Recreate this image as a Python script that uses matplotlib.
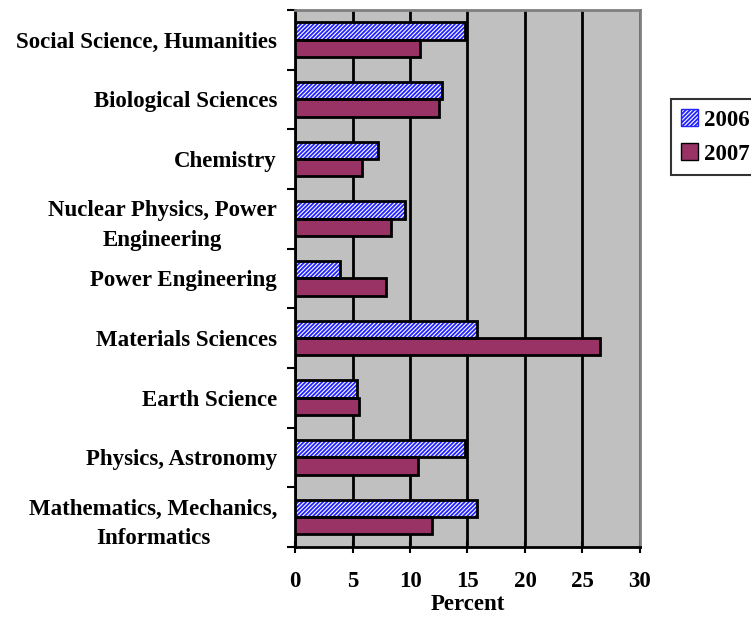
import numpy as np
import matplotlib
matplotlib.use("Agg")
import matplotlib.pyplot as plt
from matplotlib.patches import Patch

# categories listed bottom to top
categories = ["Mathematics, Mechanics,\nInformatics", "Physics, Astronomy", "Earth Science",
              "Materials Sciences", "Power Engineering", "Nuclear Physics, Power\nEngineering",
              "Chemistry", "Biological Sciences", "Social Science, Humanities"]
vals_2006 = [15.8, 14.8, 5.4, 15.8, 3.9, 9.6, 7.2, 12.8, 14.8]
vals_2007 = [11.9, 10.7, 5.6, 26.5, 7.9, 8.3, 5.8, 12.5, 10.9]
xticks = [0, 5, 10, 15, 20, 25, 30]

plt.rcParams['font.family'] = ['Liberation Serif', 'DejaVu Serif']
plt.rcParams['font.weight'] = 'bold'
plt.rcParams['hatch.linewidth'] = 1.3

fig = plt.figure(figsize=(7.51, 6.18), dpi=100)
ax = fig.add_axes([0.393, 0.115, 0.459, 0.869])
ax.set_facecolor('#c0c0c0')

y = np.arange(len(categories))
h = 0.29
# 2006: hatched blue/white, then black outline on top
ax.barh(y + h/2, vals_2006, height=h, color='white', edgecolor='#2222ff', hatch='////////', linewidth=0, zorder=3)
ax.barh(y + h/2, vals_2006, height=h, fill=False, edgecolor='black', linewidth=2, zorder=4)
ax.barh(y - h/2, vals_2007, height=h, color='#993366', edgecolor='black', linewidth=2, zorder=3)

ax.set_xlim(0, 30)
ax.set_ylim(-0.5, len(categories) - 0.5)
ax.set_xticks(xticks)
ax.set_xticklabels([str(t) for t in xticks], fontsize=16.5, fontweight='bold')
ax.xaxis.grid(True, color='black', linewidth=2, zorder=0)
ax.set_axisbelow(True)

ax.set_yticks(y)
ax.set_yticklabels(categories, fontsize=16.5, fontweight='bold', ha='right',
                   multialignment='center', linespacing=1.55)
ax.tick_params(axis='y', length=0, pad=13)
ax.set_yticks(np.arange(len(categories) + 1) - 0.5, minor=True)
ax.tick_params(axis='y', which='minor', length=6, width=1.5, direction='out')
ax.tick_params(axis='x', length=9, width=1.5, direction='inout', pad=13)

for s in ['left', 'bottom']:
    ax.spines[s].set_linewidth(2)
    ax.spines[s].set_color('black')
for s in ['top', 'right']:
    ax.spines[s].set_linewidth(2)
    ax.spines[s].set_color('#808080')

ax.set_xlabel("Percent", fontsize=16.5, fontweight='bold', labelpad=1)

# legend
handles = [Patch(facecolor='white', edgecolor='#2222ff', hatch='////////', label='2006'),
           Patch(facecolor='#993366', edgecolor='black', label='2007')]
leg = fig.legend(handles=handles, loc='upper left', bbox_to_anchor=(0.893, 0.84),
                 frameon=True, fancybox=False, edgecolor='black',
                 handlelength=0.75, handleheight=0.75, handletextpad=0.25, borderpad=0.45,
                 borderaxespad=0, labelspacing=0.55, prop={'weight': 'bold', 'size': 16.5})
leg.get_frame().set_linewidth(1.5)

fig.savefig("out.png", dpi=100)
